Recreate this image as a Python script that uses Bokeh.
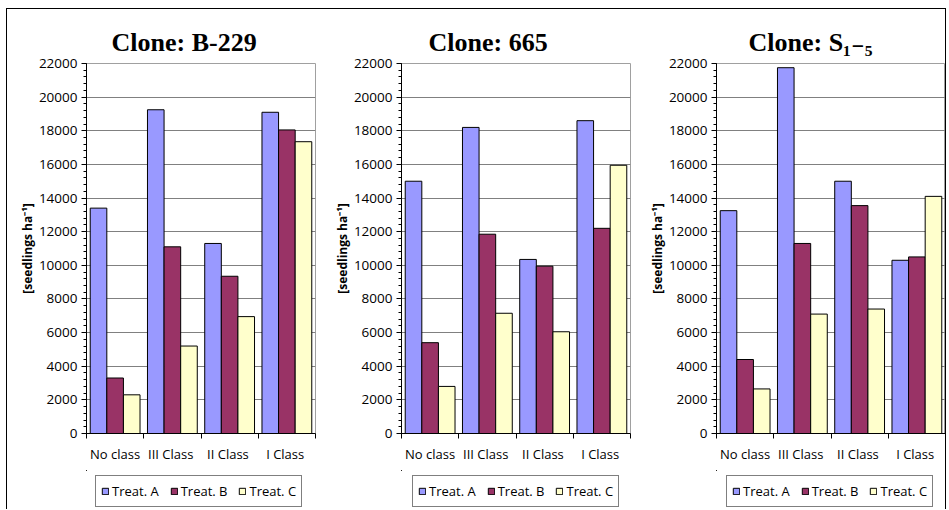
from bokeh.plotting import figure
from bokeh.layouts import row, column
from bokeh.models import (ColumnDataSource, Range1d, FixedTicker, SingleIntervalTicker,
                          Legend, LegendItem)
from bokeh.embed import file_html
from bokeh.resources import INLINE

categories = ["No class", "III  Class", "II  Class", "I  Class"]
series_names = ["Treat. A", "Treat. B", "Treat. C"]
colors = ["#9999FF", "#993366", "#FFFFCC"]

titles = ["Clone: B-229", "Clone: 665", "Clone: S\u2081\u208b\u2085"]

b229_a = [13400, 19250, 11300, 19100]
b229_b = [3300, 11100, 9350, 18050]
b229_c = [2300, 5200, 6950, 17350]

c665_a = [15000, 18200, 10350, 18600]
c665_b = [5400, 11850, 9950, 12200]
c665_c = [2800, 7150, 6050, 15950]

s15_a = [13250, 21750, 15000, 10300]
s15_b = [4400, 11300, 13550, 10500]
s15_c = [2650, 7100, 7400, 14100]

panels_data = [
    [b229_a, b229_b, b229_c],
    [c665_a, c665_b, c665_c],
    [s15_a, s15_b, s15_c],
]

y_label = "[seedlings ha\u207b\u00b9]"

# layout settings per panel: (width, border_left, border_right, title offset, legend x)
geom = [(313, 79, 5, 25, 9), (317, 81, 7, 27, 11), (308, 79, 0, 32, 10)]

FONT = "'Open Sans'"
BAR_W = 0.29

cols = []
for k, (vals, title) in enumerate(zip(panels_data, titles)):
    w, bl, br, toff, lx = geom[k]
    p = figure(width=w, height=461, output_backend="svg", toolbar_location=None,
               x_range=Range1d(0, len(categories)), y_range=Range1d(0, 22000),
               min_border_left=bl, min_border_right=br, min_border_top=54,
               min_border_bottom=37, tools="")
    p.title.text = title
    p.title.text_font = "'Liberation Serif', 'DejaVu Serif'"
    p.title.text_font_size = "26px"
    p.title.text_font_style = "bold"
    p.title.text_color = "black"
    p.title.align = "left"
    p.title.offset = toff
    p.title.standoff = 13

    # legend strip below the chart (same bar data, kept outside its view: left and above)
    lf = figure(width=w, height=39, output_backend="svg", toolbar_location=None,
                x_range=Range1d(50, 51), y_range=Range1d(-2, -1),
                x_axis_location=None, y_axis_location=None, tools="",
                min_border_left=0, min_border_right=0, min_border_top=0,
                min_border_bottom=0)
    lf.grid.grid_line_color = None
    lf.outline_line_color = None
    lf.border_fill_color = "white"

    items = []
    for j, (name, col, v) in enumerate(zip(series_names, colors, vals)):
        xs = [i + 0.5 + (j - 1) * BAR_W for i in range(len(categories))]
        src = ColumnDataSource(dict(x=xs, top=v))
        p.vbar(x="x", top="top", width=BAR_W, bottom=0, source=src,
               fill_color=col, line_color="black", line_width=1)
        r = lf.vbar(x="x", top="top", width=BAR_W, bottom=0, source=src,
                    fill_color=col, line_color="black", line_width=1)
        items.append(LegendItem(label=name, renderers=[r]))

    # x axis: labels at category centres, ticks at boundaries
    xt = FixedTicker(ticks=[i + 0.5 for i in range(len(categories))],
                     minor_ticks=list(range(len(categories) + 1)))
    p.xaxis.ticker = xt
    p.xaxis.major_label_overrides = {i + 0.5: c for i, c in enumerate(categories)}
    p.xaxis.major_tick_out = 0
    p.xaxis.major_tick_in = 0
    p.xaxis.minor_tick_out = 5
    p.xaxis.minor_tick_in = 0
    p.xaxis.major_label_standoff = 6
    p.xaxis.major_label_text_font = FONT
    p.xaxis.major_label_text_font_size = "13px"
    p.xaxis.major_label_text_color = "black"
    p.xaxis.axis_line_color = "black"
    p.xaxis.minor_tick_line_color = "black"

    p.yaxis.ticker = SingleIntervalTicker(interval=2000, num_minor_ticks=5)
    p.yaxis.major_tick_out = 5
    p.yaxis.major_tick_in = 0
    p.yaxis.minor_tick_out = 3
    p.yaxis.minor_tick_in = 0
    p.yaxis.major_label_standoff = 4
    p.yaxis.major_label_text_font = FONT
    p.yaxis.major_label_text_font_size = "13.5px"
    p.yaxis.major_label_text_color = "black"
    p.yaxis.axis_label = y_label
    p.yaxis.axis_label_text_font = FONT
    p.yaxis.axis_label_text_font_size = "12px"
    p.yaxis.axis_label_text_font_style = "bold"
    p.yaxis.axis_label_text_color = "black"
    p.yaxis.axis_label_standoff = 0
    p.yaxis.axis_line_color = "black"
    p.yaxis.major_tick_line_color = "black"
    p.yaxis.minor_tick_line_color = "black"

    p.xgrid.grid_line_color = None
    p.ygrid.ticker = SingleIntervalTicker(interval=2000)
    p.ygrid.grid_line_color = "#808080"
    p.ygrid.grid_line_width = 1
    p.outline_line_color = "#a0a0a0"
    p.outline_line_width = 1
    p.background_fill_color = "white"
    p.border_fill_color = "white"

    legend = Legend(items=items, orientation="horizontal", location=(lx, 2),
                    glyph_width=8, glyph_height=8, label_standoff=3, spacing=11,
                    padding=5, label_height=20, margin=0,
                    label_text_font=FONT, label_text_font_size="13px",
                    label_text_color="black",
                    border_line_color="black", border_line_width=1,
                    background_fill_color="white")
    lf.add_layout(legend, "center")
    cols.append(column(p, lf, spacing=0))

layout = row(*cols, spacing=0,
             styles={"margin-left": "6px", "margin-top": "8px",
                     "border-top": "1px solid black", "border-left": "1px solid black",
                     "border-right": "1px solid black"})

open("out.html", "w").write(file_html(layout, INLINE))
